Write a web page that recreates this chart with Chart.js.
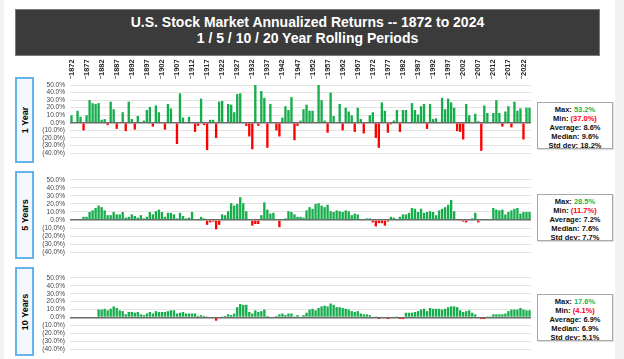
<!DOCTYPE html>
<html>
<head>
<meta charset="utf-8">
<script src="https://cdn.jsdelivr.net/npm/chart.js@4.4.1/dist/chart.umd.min.js"></script>
<style>
  html, body { margin:0; padding:0; }
  body { width:624px; height:359px; background:#f2f2f2; position:relative; overflow:hidden; font-family:"Liberation Sans", Arial, sans-serif; }
  #sheet { position:absolute; left:4px; top:0; width:611px; height:359px; background:#ffffff; }
  #title { position:absolute; left:15px; top:9px; width:583px; height:41px; background:#3b3b3b; border:1px solid #7a7a7a; color:#fff; font-weight:bold; font-size:14px; text-align:center; line-height:16px; padding-top:4px; box-sizing:content-box; }
  canvas { position:absolute; left:0; }
  .side { position:absolute; left:15px; width:15px; background:#f4f8fc; border:2px solid #63b3ee; }
  .side span { position:absolute; left:50%; top:50%; transform:translate(-50%,-50%) rotate(-90deg); white-space:nowrap; font-weight:bold; font-size:9px; color:#000; }
  .stats { position:absolute; left:537px; width:76px; background:#fff; border:1px solid #a8a8a8; box-shadow:1px 1px 1px rgba(0,0,0,0.12); font-weight:bold; font-size:7.5px; line-height:9px; text-align:center; color:#111; padding-top:2px; box-sizing:border-box; }
  .g { color:#1db450; } .r { color:#ff0000; }
</style>
</head>
<body>
<div id="sheet"></div>
<div id="title">U.S. Stock Market Annualized Returns -- 1872 to 2024<br>1 / 5 / 10 / 20 Year Rolling Periods</div>

<div class="side" style="top:77px;height:82px;"><span>1 Year</span></div>
<div class="side" style="top:171px;height:84px;"><span>5 Years</span></div>
<div class="side" style="top:267px;height:85px;"><span>10 Years</span></div>

<canvas id="c1" width="531" height="112" style="top:50px"></canvas>
<canvas id="c5" width="531" height="90" style="top:171px"></canvas>
<canvas id="c10" width="531" height="89" style="top:269px"></canvas>

<div class="stats" style="top:102px;height:47px;">Max: <span class="g">53.2%</span><br>Min: <span class="r">(37.0%)</span><br>Average: 8.6%<br>Median: 9.6%<br>Std dev: 18.2%</div>
<div class="stats" style="top:194px;height:47px;">Max: <span class="g">28.5%</span><br>Min: <span class="r">(11.7%)</span><br>Average: 7.2%<br>Median: 7.6%<br>Std dev: 7.7%</div>
<div class="stats" style="top:294px;height:47px;">Max: <span class="g">17.6%</span><br>Min: <span class="r">(4.1%)</span><br>Average: 6.9%<br>Median: 6.9%<br>Std dev: 5.1%</div>

<script>
// ---- categories ----
const firstYear = 1872;
const lastYear = 2024;
const years = [];
for (let y = firstYear; y <= lastYear; y++) years.push(String(y));

// ---- 1-year rolling real returns (%) ----
const oneYear = [
  10, -1, 16, 8, -10, 10, 30, 26,            // 1872-1879
  25, 26, 4, 5, -3, 28, 18, -8, 1, 14,       // 1880s
  -11, 28, 5, -9, 9, 1, 3, 17, 21, -5,       // 1890s
  23, 14, -1, -9, 25, 19, 1, -28, 39, 7,     // 1900s
  1, 8, 1, -12, -4, 32, -3, -36, 4, 4,       // 1910s
  -20, 28, 29, 1, 25, 24, 14, 38, 39, -1,    // 1920s
  -4, -18, -35, 52, -4, 42, 33, -33, 25, 1,  // 1930s
  -10, -18, 7, 22, 17, 34, -23, -4, 3, 18,   // 1940s
  24, 16, 16, -1, 53.2, 30, 3, -13, 40, 9,   // 1950s
  0.5, 25, -10, 20, 15, 10, -12, 20, 5, -14, // 1960s
  -1, 10, 14, -20, -33, 27, 16, -13, -2, 3,  // 1970s
  17, -12, 17, 17, 1, 26, 17, 11, 22, 25,    // 1980s
  -8, 25, 5, 6, 0.5, 33, 18, 32, 27, 20,     // 1990s
  -11, -12, -22, 25, 10, 1, 12, 2, -37, 23,  // 2000s
  13, 0.5, 13, 30, 13, -5, 15, 22, -6, 28,   // 2010s
  16, 19, -22, 20, 20                        // 2020-2024
];

// ---- 5-year rolling annualized real returns (%) ----
const fiveYear = [
  null, null, null, null, 4, 4, 10, 12,      // 1872-1879
  15, 18, 16, 12, 6, 6, 10, 7, 7, 10,        // 1880s
  3, 4, 7, 5, 3, 6, 2, 4, 10, 7,             // 1890s
  11, 13, 10, 4, 9, 9, 7, 2, 9, 5,           // 1900s
  2, 3, 10, 0.5, -1, 4, 2, -6, -3, -2,       // 1910s
  -11.7, -6, 7, 6, 11, 21, 18, 20, 28.5, 21, // 1920s
  11, 0.5, -7, -5, -5, 6, 22, 13, 8, 9,      // 1930s
  0.5, -9, 0.5, 2, 11, 10, 7, 4, 4, 3,       // 1940s
  12, 16, 14, 20, 21, 18, 16, 19, 11, 10,    // 1950s
  12, 11, 10, 12, 11, 6, 8, 7, 0.5, -1,      // 1960s
  2, 2, -3, -8, -4, -4, -7, -2, 4, 3,        // 1970s
  -1, 4, 7, 7, 9, 15, 14, 10, 14, 9,         // 1980s
  10, 11, 10, 6, 12, 14, 16, 19, 25, 11,     // 1990s
  -1, -1, -2, -3, -1, 2, 9, -3, -1, 0.3,     // 2000s
  0.3, -1, 15, 13, 12, 13, 7, 10, 12, 14,    // 2010s
  15, 8, 10, 10, 10                          // 2020-2024
];

// ---- 10-year rolling annualized real returns (%) ----
const tenYear = [
  null, null, null, null, null, null, null, null, // 1872-1879
  null, 10, 10, 11, 9, 11, 14, 12, 9, 8,     // 1880s
  4, 7, 7, 6, 7, 4, 3, 5, 7, 5,              // 1890s
  8, 7, 7, 7, 8, 9, 9, 5, 6, 7,              // 1900s
  5, 5, 5, 5, 2, 3, 2, 0.3, -1, -1,          // 1910s
  -4.1, -1, 0.3, 2, 4, 3, 5, 13, 17, 16,     // 1920s
  16, 7, 5, 9, 7, 8, 10, 2, 1, 1,            // 1930s
  2, 4, 5, 3, 5, 5, 0.5, 3, 1, 3,            // 1940s
  6, 10, 11, 9, 12, 14, 15, 14, 17.6, 16,    // 1950s
  13, 13, 12, 11, 10, 8, 7, 8, 5, 4,         // 1960s
  4, 3, 1, 0.3, -2, -1, -1, -2, -1, -1,      // 1970s
  0.3, -2, -2, 6, 6, 6, 7, 8, 10, 11,        // 1980s
  8, 12, 11, 11, 11, 10, 11, 13, 14, 14,     // 1990s
  13, 9, 7, 8, 9, 6, 4, 1, -2, -2,           // 2000s
  0.3, 0.3, 4, 4, 4, 4, 5, 8, 10, 10,        // 2010s
  10, 12, 10, 9, 9                           // 2020-2024
];

// ---- axis ticks ----
const yMin = -40, yMax = 50, yStep = 10;
const labelEvery = 5;

const GREEN = '#17ad4d';
const RED = '#ff0000';

function fmtPct(v) {
  return v < 0 ? '(' + Math.abs(v).toFixed(1) + '%)' : v.toFixed(1) + '%';
}

function makeChart(id, values, showYears, pad) {
  return new Chart(document.getElementById(id), {
    type: 'bar',
    data: {
      labels: years,
      datasets: [{
        data: values,
        backgroundColor: ctx => (ctx.raw !== null && ctx.raw < 0) ? RED : GREEN,
        borderWidth: 0,
        barPercentage: 0.78,
        categoryPercentage: 1.0
      }]
    },
    options: {
      responsive: false,
      maintainAspectRatio: false,
      animation: false,
      events: [],
      layout: { padding: pad },
      plugins: { legend: { display: false }, tooltip: { enabled: false }, title: { display: false } },
      scales: {
        x: {
          display: showYears,
          position: 'top',
          offset: true,
          afterFit: s => { if (showYears) { s.height = 35; s.paddingLeft = 0; s.paddingRight = 0; } },
          border: { display: false },
          grid: {
            offset: true,
            drawOnChartArea: false,
            tickLength: 9,
            tickBorderDash: [3, 30],
            color: ctx => (ctx.index % labelEvery === 0) ? '#8a8a8a' : 'rgba(0,0,0,0)'
          },
          ticks: {
            autoSkip: false,
            minRotation: 90,
            maxRotation: 90,
            padding: 0,
            labelOffset: 9,
            color: '#2a2a2a',
            font: { family: 'Liberation Sans', size: 7.5, weight: 'bold' },
            callback: function (val, idx) { return idx % labelEvery === 0 ? this.getLabelForValue(val) : ''; }
          }
        },
        y: {
          min: yMin,
          max: yMax,
          afterFit: s => { s.width = 70; },
          border: { display: false },
          grid: {
            drawTicks: false,
            color: ctx => ctx.tick.value === 0 ? '#6a6a6a' : '#e4e4e4',
            lineWidth: ctx => ctx.tick.value === 0 ? 1.5 : 1
          },
          ticks: {
            stepSize: yStep,
            autoSkip: false,
            padding: 5,
            color: '#444',
            font: { family: 'Liberation Sans', size: 6.5 },
            callback: v => fmtPct(v)
          }
        }
      }
    }
  });
}

makeChart('c1', oneYear, true, { top: 0, bottom: 5, left: 0, right: 0 });
makeChart('c5', fiveYear, false, { top: 7, bottom: 7, left: 0, right: 0 });
makeChart('c10', tenYear, false, { top: 7, bottom: 7, left: 0, right: 0 });
</script>
</body>
</html>
